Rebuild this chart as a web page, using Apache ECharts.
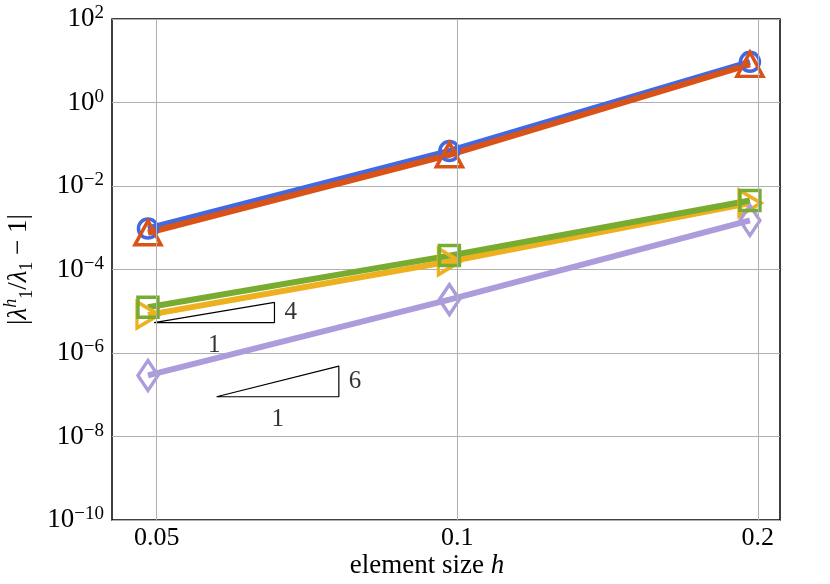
<!DOCTYPE html>
<html>
<head>
<meta charset="utf-8">
<title>convergence</title>
<script src="https://cdn.jsdelivr.net/npm/echarts@6/dist/echarts.min.js"></script>
<style>
  html, body { margin: 0; padding: 0; background: #fff; }
  #main { width: 830px; height: 584px; }
</style>
</head>
<body>
<div id="main"></div>
<script type="text/javascript">
// element sizes
var h = [0.0490, 0.0982, 0.1964];
// relative eigenvalue errors per curve
var errBlue   = [9.6e-4, 0.069, 9.4];
var errOrange = [7.6e-4, 0.056, 8.2];
var errYellow = [8.2e-6, 1.55e-4, 3.9e-3];
var errPurple = [2.9e-7, 1.9e-5, 1.5e-3];
var errGreen  = [1.25e-5, 2.15e-4, 4.5e-3];
// x tick values
var xTicks = [0.05, 0.1, 0.2];
// slope triangles: [x start, x end, y at base, order]
var slope4 = [0.0497, 0.0656, 5.35e-6, 4];
var slope6 = [0.0574, 0.0761, 8.95e-8, 6];

var FONT = '"Liberation Serif", "DejaVu Serif", serif';

function pairs(ys) {
    return h.map(function (x, i) { return [x, ys[i]]; });
}

function triPath(t) {
    var yTop = t[2] * Math.pow(t[1] / t[0], t[3]);
    return [[t[0], t[2]], [t[1], t[2]], [t[1], yTop], [t[0], t[2]]];
}

function triLabels(t) {
    var yTop = t[2] * Math.pow(t[1] / t[0], t[3]);
    return [
        {value: [t[1], Math.sqrt(t[2] * yTop)], label: {position: 'right', formatter: String(t[3])}},
        {value: [Math.sqrt(t[0] * t[1]), t[2]], label: {position: 'bottom', formatter: '1'}}
    ];
}

function curve(name, ys, color, symbol, size, rotate) {
    return {
        name: name,
        type: 'line',
        data: pairs(ys),
        symbol: symbol,
        symbolSize: size,
        symbolRotate: rotate || 0,
        showSymbol: true,
        lineStyle: {color: color, width: 6},
        itemStyle: {color: 'rgba(0,0,0,0)', borderColor: color, borderWidth: 3.5},
        z: 3
    };
}

var myChart = echarts.init(document.getElementById('main'));
var option = {
    animation: false,
    textStyle: {fontFamily: FONT},
    grid: {
        left: 112, right: 50, top: 19, bottom: 64,
        containLabel: false,
        outerBoundsMode: 'none',
        show: true, borderColor: '#000', borderWidth: 1.5, backgroundColor: 'transparent'
    },
    xAxis: {
        type: 'log',
        logBase: 2,
        min: 0.0451,
        max: 0.2105,
        axisLine: {show: false},
        axisTick: {show: false},
        axisLabel: {show: false},
        splitLine: {show: false},
        name: '{a|element size }{i|h}',
        nameLocation: 'middle',
        nameGap: 32,
        nameTextStyle: {
            padding: [0, 38, 0, 0],
            rich: {
                a: {fontFamily: FONT, fontSize: 27, color: '#000'},
                i: {fontFamily: FONT, fontSize: 27, fontStyle: 'italic', color: '#000'}
            }
        }
    },
    yAxis: {
        type: 'log',
        logBase: 10,
        min: 1e-10,
        max: 1e2,
        interval: 2,
        axisLine: {show: false},
        axisTick: {show: false},
        splitLine: {show: true, lineStyle: {color: '#b0b0b0', width: 1}},
        axisLabel: {
            margin: 8,
            formatter: function (v) {
                var e = Math.round(Math.log10(v));
                var s = e < 0 ? '\u2212' + (-e) : String(e);
                return '{b|10}{s|' + s + '}';
            },
            rich: {
                b: {fontFamily: FONT, fontSize: 27, color: '#000', lineHeight: 30},
                s: {fontFamily: FONT, fontSize: 19, color: '#000', verticalAlign: 'top', lineHeight: 18}
            }
        },
        name: '{t||}{l|\u03bb}{sup|h}{sub|1}{t|/}{l|\u03bb}{sub|1}{t| \u2212 1|}',
        nameLocation: 'middle',
        nameGap: 72,
        nameRotate: 90,
        nameTextStyle: {
            rich: {
                t: {fontFamily: FONT, fontSize: 27, color: '#000', lineHeight: 34},
                l: {fontFamily: FONT, fontSize: 27, fontStyle: 'italic', color: '#000', lineHeight: 34},
                sup: {fontFamily: FONT, fontSize: 18, fontStyle: 'italic', color: '#000', verticalAlign: 'top', lineHeight: 18},
                sub: {fontFamily: FONT, fontSize: 18, color: '#000', verticalAlign: 'bottom', lineHeight: 18}
            }
        }
    },
    series: [
        {
            // x grid lines + tick labels
            type: 'line',
            data: xTicks.map(function (x) { return [x, 1e-10]; }),
            showSymbol: false,
            lineStyle: {width: 0},
            silent: true,
            z: 1,
            markLine: {
                silent: true,
                symbol: ['none', 'none'],
                lineStyle: {color: '#b0b0b0', width: 1, type: 'solid'},
                label: {
                    show: true, position: 'start', distance: 5,
                    fontFamily: FONT, fontSize: 26, color: '#000',
                    formatter: function (p) { return String(p.value); }
                },
                data: xTicks.map(function (x) { return {xAxis: x}; })
            }
        },
        curve('c1', errBlue, '#4169e1', 'circle', 19),
        curve('c2', errOrange, '#d95319', 'triangle', [26, 24]),
        curve('c3', errYellow, '#edb120', 'triangle', [26, 22], -90),
        curve('c4', errPurple, '#ad9cdb', 'diamond', [20, 30]),
        curve('c5', errGreen, '#77ac30', 'rect', 20),
        {
            type: 'line', data: triPath(slope4), showSymbol: false, silent: true,
            lineStyle: {color: '#000', width: 1.2}, z: 4
        },
        {
            type: 'line', data: triPath(slope6), showSymbol: false, silent: true,
            lineStyle: {color: '#000', width: 1.2}, z: 4
        },
        {
            type: 'scatter', symbolSize: 0, silent: true, z: 4,
            data: triLabels(slope4).concat(triLabels(slope6)),
            label: {show: true, fontFamily: FONT, fontSize: 25, color: '#000', distance: 10}
        }
    ]
};
myChart.setOption(option);
</script>
</body>
</html>
